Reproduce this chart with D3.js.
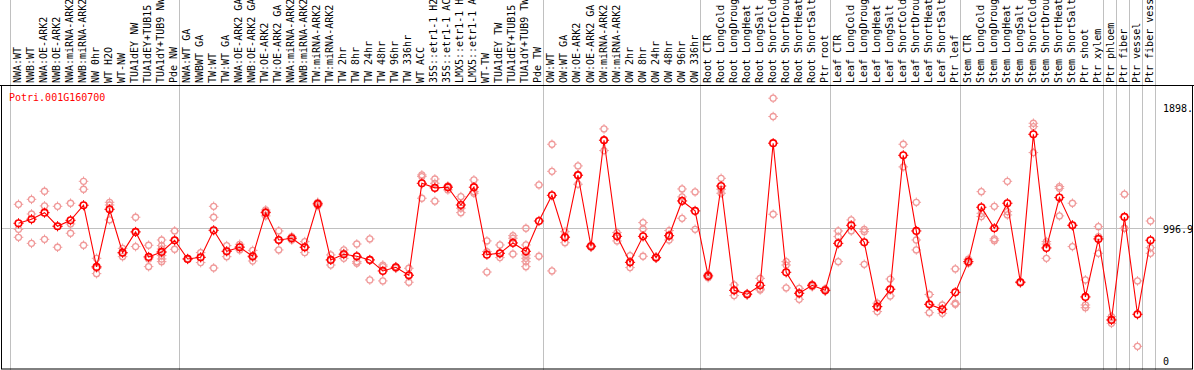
<!DOCTYPE html>
<html>
<head>
<meta charset="utf-8">
<script src="https://cdn.jsdelivr.net/npm/d3@7"></script>
<style>
  body { margin: 0; background: #fff; }
  svg { display: block; }
  text { font-family: "DejaVu Sans Mono", monospace; font-size: 10px; }
</style>
</head>
<body>
<script>
// sample names, one per column
var sampleLabels = [
  "NWA:WT", "NWB:WT", "NWA:OE-ARK2", "NWB:OE-ARK2", "NWA:miRNA-ARK2", "NWB:miRNA-ARK2",
  "NW 0hr", "WT H2O", "WT-NW", "TUA1dEY NW", "TUA1dEY+TUB15 NW", "TUA1dY+TUB9 NW", "Pde NW",
  "NWA:WT GA", "NWBWT GA", "TW:WT", "TW:WT GA", "NWA:OE-ARK2 GA", "NWB:OE-ARK2 GA",
  "TW:OE-ARK2", "TW:OE-ARK2 GA", "NWA:miRNA-ARK2 GA", "NWB:miRNA-ARK2 GA", "TW:miRNA-ARK2",
  "TW:miRNA-ARK2 GA", "TW 2hr", "TW 8hr", "TW 24hr", "TW 48hr", "TW 96hr", "TW 336hr",
  "WT ACC", "35S::etr1-1 H2O", "35S::etr1-1 ACC", "LMX5::etr1-1 H2O", "LMX5::etr1-1 ACC",
  "WT-TW", "TUA1dEY TW", "TUA1dEY+TUB15 TW", "TUA1dY+TUB9 TW", "Pde TW",
  "OW:WT", "OW:WT GA", "OW:OE-ARK2", "OW:OE-ARK2 GA", "OW:miRNA-ARK2", "OW:miRNA-ARK2 GA",
  "OW 2hr", "OW 8hr", "OW 24hr", "OW 48hr", "OW 96hr", "OW 336hr",
  "Root CTR", "Root LongCold", "Root LongDrought", "Root LongHeat", "Root LongSalt",
  "Root ShortCold", "Root ShortDrought", "Root ShortHeat", "Root ShortSalt", "Ptr root",
  "Leaf CTR", "Leaf LongCold", "Leaf LongDrought", "Leaf LongHeat", "Leaf LongSalt",
  "Leaf ShortCold", "Leaf ShortDrought", "Leaf ShortHeat", "Leaf ShortSalt", "Ptr leaf",
  "Stem CTR", "Stem LongCold", "Stem LongDrought", "Stem LongHeat", "Stem LongSalt",
  "Stem ShortCold", "Stem ShortDrought", "Stem ShortHeat", "Stem ShortSalt", "Ptr shoot", "Ptr xylem",
  "Ptr phloem", "Ptr fiber", "Ptr vessel", "Ptr fiber vessel"
];

// column index where each group starts (last one closes the final group)
var groupBreaks = [0, 13, 41, 53, 63, 73, 84, 85, 86, 87, 88];

var meanValues = [
  1034, 1064, 1113, 1012, 1056, 1168, 710, 1138, 816, 970, 784, 821, 908,
  769, 781, 982, 826, 856, 789, 1113, 910, 923, 856, 1178, 762, 804, 789, 762, 680, 707, 648,
  1331, 1297, 1302, 1170, 1302, 801, 811, 888, 826, 1051,
  1242, 930, 1391, 863, 1651, 937, 744, 937, 779, 942, 1200, 1126,
  643, 1311, 536, 507, 573, 1629, 670, 514, 573, 536,
  885, 1019, 893, 415, 544, 1539, 977, 432, 395, 521,
  749, 1153, 997, 1183, 596, 1695, 851, 1225, 1019, 487, 918,
  316, 1081, 358, 908
];

var replicateValues = [
  [1175, 989, 930], [1212, 1103, 885], [1272, 1163, 915], [1160, 1012, 856],
  [1183, 1029, 960], [1346, 1287, 871], [774, 700, 660], [1190, 1170, 1059],
  [848, 811, 786], [1079, 970, 861], [871, 769, 712], [910, 868, 843, 819, 794, 769, 749],
  [977, 908, 841],
  [772, 769, 766], [816, 781, 742], [1160, 1079, 702], [868, 826, 786], [878, 861, 836],
  [833, 781, 754], [1133, 1121, 1089], [977, 910, 836], [935, 923, 910], [898, 856, 816],
  [1190, 1178, 1165], [799, 762, 724], [836, 811, 774], [880, 749, 737], [918, 762, 613],
  [724, 712, 606], [712, 707, 700], [700, 648, 596], [1393, 1381, 1220], [1363, 1331, 1198],
  [1311, 1302, 1282], [1232, 1146, 1113], [1356, 1269, 1257], [903, 824, 672],
  [873, 811, 779], [942, 923, 806], [997, 873, 799, 774, 749, 712], [1319, 789],
  [1621, 1420, 680], [972, 935, 890], [1460, 1391, 1324], [870, 863, 856],
  [1735, 1651, 1574], [965, 937, 903], [794, 744, 705], [1039, 992, 789], [783, 779, 775],
  [980, 942, 910], [1289, 1230, 1071], [1267, 989],
  [655, 643, 630], [1368, 1287, 1257], [576, 536, 497], [512, 505, 502], [625, 546, 539],
  [1963, 1827, 1101], [749, 724, 554], [551, 514, 469], [581, 573, 563], [546, 536, 531],
  [977, 935, 749], [1059, 977], [989, 972, 729], [440, 415, 378], [620, 544, 494],
  [1621, 1453], [1190, 910, 836], [505, 432, 370], [427, 365], [695, 440, 432],
  [767, 749, 737], [1269, 1108, 1084], [1160, 918, 905], [1346, 1121, 1096], [601, 596, 591],
  [1777, 1752, 1559], [898, 880, 774], [1307, 1294, 1089], [1183, 1019, 861], [613, 427, 407],
  [1009, 935, 811],
  [341, 316, 291], [1250, 997, 996], [606, 120], [1051, 853, 811]
];

var yTickValues = [0, 996.9, 1898.4];
var geneName = "Potri.001G160700";

var svgWidth = 1194;
var svgHeight = 370;
var headerHeight = 85;
var plotLeft = 10, plotRight = 1155;
var plotBottom = 362.5;

var svg = d3.select("body").append("svg")
  .attr("width", svgWidth)
  .attr("height", svgHeight);

svg.append("rect").attr("width", svgWidth).attr("height", svgHeight).attr("fill", "#fff");

svg.append("clipPath").attr("id", "clip")
  .append("rect").attr("x", 0).attr("y", 0).attr("width", 1192).attr("height", svgHeight);

var xBand = d3.scaleBand()
  .domain(d3.range(sampleLabels.length))
  .range([plotLeft, plotRight]);
var px = i => xBand(i) + 8.5;

var allReps = replicateValues.flat();
var yScale = d3.scaleLinear()
  .domain([0, d3.max(allReps) * 1.05])
  .range([plotBottom, headerHeight]);

var crisp = v => Math.round(v) + 0.5;

// group separators
svg.append("g").selectAll("line")
  .data(groupBreaks)
  .enter().append("line")
  .attr("x1", d => crisp(d < sampleLabels.length ? xBand(d) : plotRight))
  .attr("x2", d => crisp(d < sampleLabels.length ? xBand(d) : plotRight))
  .attr("y1", 0).attr("y2", svgHeight)
  .attr("stroke", "#c0c0c0").attr("stroke-width", 1);

// horizontal reference line
svg.append("line")
  .attr("x1", 1).attr("x2", 1192)
  .attr("y1", crisp(yScale(yTickValues[1]))).attr("y2", crisp(yScale(yTickValues[1])))
  .attr("stroke", "#c0c0c0");

// header rule and plot frame
svg.append("line")
  .attr("x1", 0).attr("x2", svgWidth)
  .attr("y1", headerHeight + 0.5).attr("y2", headerHeight + 0.5)
  .attr("stroke", "#000");
svg.append("rect")
  .attr("x", 1.5).attr("y", headerHeight + 0.5)
  .attr("width", 1191).attr("height", svgHeight - headerHeight - 1.5)
  .attr("fill", "none").attr("stroke", "#000");

// sample labels, rotated (long ones run off the top, as in the original)
svg.append("g").selectAll("text")
  .data(sampleLabels)
  .enter().append("text")
  .attr("transform", (d, i) => `translate(${px(i) + 2.5}, 83) rotate(-90)`)
  .attr("fill", "#000")
  .text(d => d);

// y tick labels on the right
svg.append("g").attr("clip-path", "url(#clip)").selectAll("text")
  .data(yTickValues)
  .enter().append("text")
  .attr("x", 1163)
  .attr("y", d => Math.min(yScale(d) + 5, 365))
  .attr("fill", "#000")
  .text(d => d === 0 ? "0" : d3.format(".1f")(d));

svg.append("text")
  .attr("x", 9).attr("y", 101)
  .attr("fill", "#ff0000")
  .text(geneName);

function marker(g, color, sw, r) {
  g.append("circle").attr("r", r).attr("fill", "none")
    .attr("stroke", color).attr("stroke-width", sw);
  g.append("path")
    .attr("d", `M0,${-r - 1.8}V${-r}M0,${r}V${r + 1.8}M${-r - 1.8},0H${-r}M${r},0H${r + 1.8}`)
    .attr("stroke", color).attr("stroke-width", 1);
}

// replicates
var repPoints = [];
replicateValues.forEach((reps, i) => reps.forEach(v => repPoints.push({ i: i, v: v })));
svg.append("g").selectAll("g")
  .data(repPoints)
  .enter().append("g")
  .attr("transform", d => `translate(${px(d.i)}, ${yScale(d.v)})`)
  .each(function() { marker(d3.select(this), "#f09a9a", 1.3, 3); });

// mean line
var line = d3.line()
  .x((d, i) => px(i))
  .y(d => yScale(d));
svg.append("path")
  .datum(meanValues)
  .attr("d", line)
  .attr("fill", "none")
  .attr("stroke", "#ff0000")
  .attr("stroke-width", 1.1);

svg.append("g").selectAll("g")
  .data(meanValues)
  .enter().append("g")
  .attr("transform", (d, i) => `translate(${px(i)}, ${yScale(d)})`)
  .each(function() { marker(d3.select(this), "#ff0000", 1.6, 3.3); });
</script>
</body>
</html>
